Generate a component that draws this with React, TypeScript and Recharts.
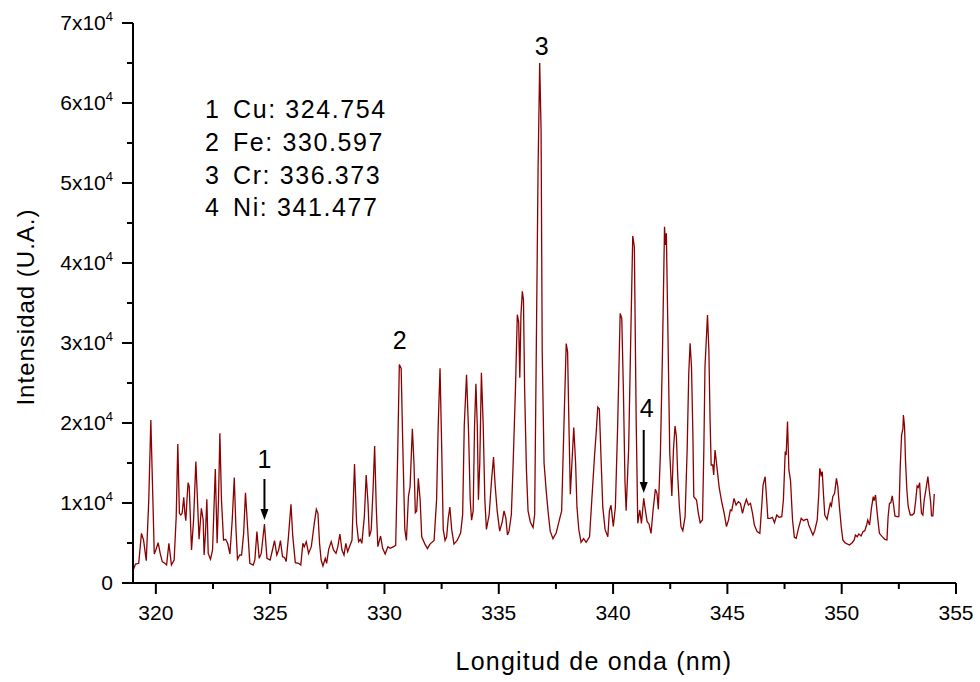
import { LineChart, Line, XAxis, YAxis, ReferenceDot } from "recharts";

const FONT = "'Liberation Sans', Arial, Helvetica, sans-serif";
const LINE_COLOR = "#8b0000";

// [wavelength nm, intensity a.u.]
const spectrum319to325: [number, number][] = [
  [319.01, 1625], [319.11, 2375], [319.25, 2460], [319.37, 6200], [319.46, 5375], [319.58, 2790],
  [319.69, 10375], [319.78, 20375], [319.87, 10375], [319.93, 3625], [320.0, 4125], [320.1, 5040],
  [320.19, 3700], [320.28, 2670], [320.39, 2460], [320.47, 2250], [320.57, 4960], [320.68, 2250],
  [320.8, 2875], [320.89, 8290], [320.96, 17375], [321.03, 8710], [321.09, 8500], [321.15, 8710],
  [321.22, 10700], [321.27, 8710], [321.31, 7790], [321.36, 10375], [321.41, 12540], [321.46, 12040],
  [321.56, 4125], [321.65, 7875], [321.75, 15170], [321.82, 10375], [321.89, 5460], [321.99, 9330],
  [322.07, 7875], [322.11, 3500], [322.17, 6200], [322.23, 10460], [322.29, 3700], [322.39, 2960],
  [322.48, 4125], [322.6, 14250], [322.68, 4960], [322.74, 10375], [322.8, 18710], [322.87, 10375],
  [322.96, 5375], [323.05, 5460], [323.14, 4960], [323.24, 3625], [323.34, 7875], [323.43, 13170],
  [323.5, 7040], [323.57, 2960], [323.67, 3500], [323.75, 3500], [323.84, 6200], [323.92, 11290],
  [324.01, 7040], [324.11, 2460], [324.26, 2250], [324.33, 2875], [324.42, 6420], [324.52, 3080],
  [324.61, 3700], [324.75, 7375], [324.86, 3080], [325.0, 2875],
];

const spectrum325to330: [number, number][] = [
  [325.1, 4125], [325.19, 5290], [325.29, 3500], [325.37, 4125], [325.45, 5290], [325.54, 3290],
  [325.63, 3200], [325.7, 2670], [325.8, 5790], [325.91, 9830], [325.99, 5790], [326.1, 2540],
  [326.24, 2460], [326.34, 2250], [326.43, 4960], [326.49, 4540], [326.58, 5170], [326.68, 3700],
  [326.8, 4540], [326.93, 7460], [327.02, 9210], [327.09, 8710], [327.16, 4960], [327.23, 2875],
  [327.31, 2125], [327.41, 3080], [327.47, 2460], [327.56, 4210], [327.67, 5170], [327.77, 4125],
  [327.88, 3700], [327.96, 4540], [328.05, 6125], [328.14, 4125], [328.23, 3500], [328.31, 4960],
  [328.39, 3920], [328.47, 4540], [328.58, 5375], [328.69, 14875], [328.78, 7460], [328.87, 5170],
  [328.94, 5460], [329.01, 4960], [329.12, 8290], [329.2, 13500], [329.28, 9960], [329.34, 5790],
  [329.42, 6625], [329.5, 11625], [329.57, 17125], [329.64, 9540], [329.71, 4540], [329.83, 5875],
  [329.92, 4330], [330.03, 3625], [330.15, 4540], [330.25, 4330], [330.4, 4540], [330.49, 4700],
];

const spectrum330to337: [number, number][] = [
  [330.57, 15030], [330.65, 27300], [330.73, 26830], [330.8, 17350], [330.89, 6700], [330.96, 5320],
  [331.05, 10870], [331.12, 12030], [331.22, 19290], [331.29, 15030], [331.35, 8790], [331.41, 9000],
  [331.48, 13090], [331.56, 10400], [331.63, 5780], [331.77, 4860], [331.88, 4300], [331.99, 4860],
  [332.17, 5320], [332.28, 10400], [332.35, 19660], [332.43, 26830], [332.5, 17350], [332.57, 6700],
  [332.65, 5320], [332.72, 5780], [332.79, 8100], [332.86, 9480], [332.94, 6700], [333.04, 4860],
  [333.18, 5320], [333.33, 6250], [333.42, 8560], [333.49, 19660], [333.59, 26040], [333.68, 18740],
  [333.75, 10400], [333.81, 7860], [333.88, 9020], [333.94, 19660], [334.0, 24890], [334.06, 19660],
  [334.11, 10400], [334.17, 15030], [334.24, 26280], [334.32, 19660], [334.39, 10400], [334.46, 6700],
  [334.58, 8560], [334.68, 12720], [334.77, 15730], [334.84, 12260], [334.93, 9020], [335.04, 6480],
  [335.15, 7630], [335.23, 9020], [335.31, 8100], [335.38, 6010], [335.45, 6480], [335.55, 8560],
  [335.63, 15030], [335.73, 24290], [335.81, 33540], [335.87, 32610], [335.92, 25670], [335.97, 33540],
  [336.03, 36450], [336.08, 35380], [336.13, 24290], [336.21, 14110], [336.28, 9020], [336.38, 7630],
  [336.5, 6940], [336.57, 8560], [336.64, 28900], [336.72, 52000], [336.79, 65000], [336.85, 56670],
  [336.9, 28900], [336.98, 15030], [337.08, 11330], [337.17, 8560], [337.25, 6480], [337.37, 5550],
];

const spectrum337to343: [number, number][] = [
  [337.51, 6250], [337.63, 7630], [337.75, 9020], [337.85, 19660], [337.95, 29930], [338.01, 28900],
  [338.07, 19660], [338.13, 11100], [338.2, 15030], [338.28, 19430], [338.36, 15030], [338.42, 9480],
  [338.5, 6700], [338.6, 5090], [338.71, 5550], [338.82, 5090], [338.97, 5780], [339.07, 10400],
  [339.19, 15960], [339.26, 18740], [339.33, 21970], [339.4, 21740], [339.48, 15030], [339.55, 9480],
  [339.65, 6700], [339.77, 5780], [339.84, 9020], [339.91, 9720], [340.01, 7080], [340.1, 9480],
  [340.2, 19660], [340.31, 33680], [340.38, 33080], [340.45, 24290], [340.52, 12720], [340.57, 9020],
  [340.68, 16670], [340.76, 28710], [340.86, 43380], [340.93, 42040], [341.01, 20380], [341.08, 7460],
  [341.17, 9130], [341.24, 7460], [341.34, 10580], [341.41, 9130], [341.49, 7670], [341.57, 7380],
  [341.66, 6210], [341.75, 9130], [341.85, 11710], [341.92, 11210], [341.98, 9210], [342.07, 16210],
  [342.16, 28710], [342.25, 44540], [342.29, 42250], [342.33, 43710], [342.39, 32870], [342.48, 16210],
  [342.57, 10880], [342.64, 16630], [342.71, 19630], [342.77, 18290], [342.83, 13290], [342.9, 9540],
  [342.97, 7040],
];

const spectrum343to348: [number, number][] = [
  [343.05, 6540], [343.15, 8290], [343.24, 16630], [343.31, 26210], [343.37, 29960], [343.43, 27040],
  [343.49, 18710], [343.53, 10790], [343.65, 10380], [343.73, 8710], [343.81, 7540], [343.91, 7880],
  [343.97, 16630], [344.02, 27040], [344.13, 33500], [344.19, 29130], [344.24, 20790], [344.29, 14750],
  [344.36, 14750], [344.4, 13500], [344.46, 16630], [344.54, 14540], [344.64, 11960], [344.75, 10170],
  [344.86, 8710], [344.96, 7040], [345.05, 7880], [345.13, 9130], [345.19, 9040], [345.29, 10580],
  [345.38, 9750], [345.48, 10170], [345.57, 9960], [345.66, 8710], [345.75, 9750], [345.83, 10460],
  [345.92, 9750], [346.01, 9960], [346.1, 8710], [346.18, 7250], [346.3, 6420], [346.42, 6210],
  [346.5, 9540], [346.56, 12250], [346.65, 13290], [346.71, 10790], [346.77, 8080], [346.87, 8080],
  [346.97, 8210], [347.06, 7540], [347.16, 8500], [347.26, 8210], [347.38, 8290], [347.45, 10380],
  [347.53, 16420], [347.57, 16000], [347.63, 20170], [347.69, 14130], [347.76, 12870], [347.85, 7880],
  [347.93, 5710], [348.01, 5580], [348.11, 6830], [348.23, 8080], [348.33, 7790], [348.43, 7960],
];

const spectrum348to354: [number, number][] = [
  [348.5, 7960], [348.56, 7250], [348.65, 6630], [348.74, 6000], [348.82, 6540], [348.93, 7880],
  [349.0, 11250], [349.04, 14330], [349.1, 13500], [349.15, 13920], [349.2, 11250], [349.26, 8500],
  [349.36, 7960], [349.44, 9130], [349.5, 9960], [349.55, 9630], [349.61, 10790], [349.69, 11210],
  [349.77, 13080], [349.83, 12040], [349.9, 9540], [349.98, 7040], [350.05, 5380], [350.14, 5040],
  [350.24, 4880], [350.34, 4750], [350.46, 5040], [350.55, 5380], [350.6, 6000], [350.68, 5790],
  [350.75, 6130], [350.85, 5880], [350.93, 6420], [351.01, 6540], [351.09, 7250], [351.14, 7880],
  [351.22, 7250], [351.3, 9330], [351.38, 10790], [351.42, 10290], [351.48, 11000], [351.54, 9130],
  [351.6, 7460], [351.65, 6210], [351.77, 5790], [351.89, 5460], [351.98, 5380], [352.03, 8290],
  [352.09, 9960], [352.15, 10040], [352.21, 10880], [352.27, 9750], [352.33, 8380], [352.41, 8290],
  [352.5, 8290], [352.56, 14540], [352.62, 18500], [352.68, 19330], [352.7, 21000], [352.75, 19540],
  [352.79, 15380], [352.85, 11630], [352.91, 9540], [353.0, 8500], [353.08, 8500], [353.17, 8710],
  [353.24, 10380], [353.3, 12130], [353.35, 11960], [353.41, 12540], [353.45, 10380], [353.49, 8710],
  [353.55, 8500], [353.61, 10380], [353.67, 11420], [353.73, 12540], [353.77, 13290], [353.83, 11630],
  [353.89, 10170], [353.93, 8380], [353.99, 8380], [354.05, 11130],
];

const xTicks = [320, 322.5, 325, 327.5, 330, 332.5, 335, 337.5, 340, 342.5, 345, 347.5, 350, 352.5, 355];
const yTicks = [0, 5000, 10000, 15000, 20000, 25000, 30000, 35000, 40000, 45000, 50000, 55000, 60000, 65000, 70000];

// identified lines: number, element, wavelength
const lineIds = ["1", "2", "3", "4"];
const lineElements = ["Cu", "Fe", "Cr", "Ni"];
const lineWavelengths = ["324.754", "330.597", "336.373", "341.477"];

const data = [
  ...spectrum319to325,
  ...spectrum325to330,
  ...spectrum330to337,
  ...spectrum337to343,
  ...spectrum343to348,
  ...spectrum348to354,
].map(([nm, counts]) => ({ nm, counts }));

function XTick({ x, y, payload }: any) {
  const major = payload.value % 5 === 0;
  return (
    <g>
      <line x1={x} y1={y} x2={x} y2={y + (major ? 11 : 6)} stroke="#000" strokeWidth={2} />
      {major && (
        <text x={x} y={y + 37} textAnchor="middle" fontSize={21} fontFamily={FONT} fill="#000">
          {payload.value}
        </text>
      )}
    </g>
  );
}

function YTick({ x, y, payload }: any) {
  const v = payload.value;
  const major = v % 10000 === 0;
  return (
    <g>
      <line x1={x} y1={y} x2={x - (major ? 11 : 6)} y2={y} stroke="#000" strokeWidth={2} />
      {major && (
        <text x={x - 20} y={y + 7} textAnchor="end" fontSize={21} fontFamily={FONT} fill="#000">
          {v === 0 ? "0" : `${v / 10000}x10`}
          {v !== 0 && (
            <tspan dy={-9} fontSize={13}>
              4
            </tspan>
          )}
        </text>
      )}
    </g>
  );
}

// number with a downward arrow ending at the point
function ArrowMark(label: string, len: number, textUp: number, dx: number) {
  return ({ cx, cy }: any) => (
    <g>
      <line x1={cx} y1={cy - len} x2={cx} y2={cy - 9} stroke="#000" strokeWidth={2} />
      <path d={`M${cx - 4},${cy - 11} L${cx + 4},${cy - 11} L${cx},${cy} Z`} fill="#000" />
      <text x={cx + dx} y={cy - textUp} textAnchor="middle" fontSize={25} fontFamily={FONT} fill="#000">
        {label}
      </text>
    </g>
  );
}

function PeakLabel(label: string) {
  return ({ cx, cy }: any) => (
    <text x={cx} y={cy} textAnchor="middle" fontSize={25} fontFamily={FONT} fill="#000">
      {label}
    </text>
  );
}

export default function App() {
  return (
    <div style={{ position: "absolute", left: 0, top: 0, width: 980, height: 682, background: "#fff" }}>
      <LineChart width={980} height={682} data={data} margin={{ top: 23, right: 24, left: 0, bottom: 0 }}>
        <XAxis
          dataKey="nm"
          type="number"
          domain={[319, 355]}
          ticks={xTicks}
          interval={0}
          allowDataOverflow
          height={99}
          tickSize={0}
          tickMargin={0}
          tickLine={false}
          axisLine={{ stroke: "#000", strokeWidth: 2 }}
          tick={<XTick />}
        />
        <YAxis
          type="number"
          domain={[0, 70000]}
          ticks={yTicks}
          interval={0}
          width={133}
          tickSize={0}
          tickMargin={0}
          tickLine={false}
          axisLine={{ stroke: "#000", strokeWidth: 2 }}
          tick={<YTick />}
        />
        <Line
          type="linear"
          dataKey="counts"
          stroke={LINE_COLOR}
          strokeWidth={1.3}
          dot={false}
          isAnimationActive={false}
        />
        <ReferenceDot x={324.75} y={7875} r={0} shape={ArrowMark("1", 41, 52, 0)} />
        <ReferenceDot x={341.34} y={11250} r={0} shape={ArrowMark("4", 63, 76, 3)} />
        <ReferenceDot x={330.67} y={29190} r={0} shape={PeakLabel("2")} />
        <ReferenceDot x={336.88} y={66000} r={0} shape={PeakLabel("3")} />
      </LineChart>
      <svg
        width={980}
        height={682}
        style={{ position: "absolute", left: 0, top: 0, pointerEvents: "none" }}
      >
        {lineIds.map((id, i) => (
          <g key={id} fontFamily={FONT} fontSize={25} fill="#000">
            <text x={205} y={118 + i * 32.8} letterSpacing={1.5}>
              {id}
            </text>
            <text x={233} y={118 + i * 32.8} letterSpacing={1.6}>
              {`${lineElements[i]}: ${lineWavelengths[i]}`}
            </text>
          </g>
        ))}
        <text x={594} y={670} textAnchor="middle" fontSize={25} fontFamily={FONT} letterSpacing={1.2}>
          Longitud de onda (nm)
        </text>
        <text
          x={34}
          y={307}
          textAnchor="middle"
          fontSize={24}
          fontFamily={FONT}
          letterSpacing={1}
          transform="rotate(-90 34 307)"
        >
          Intensidad (U.A.)
        </text>
      </svg>
    </div>
  );
}
